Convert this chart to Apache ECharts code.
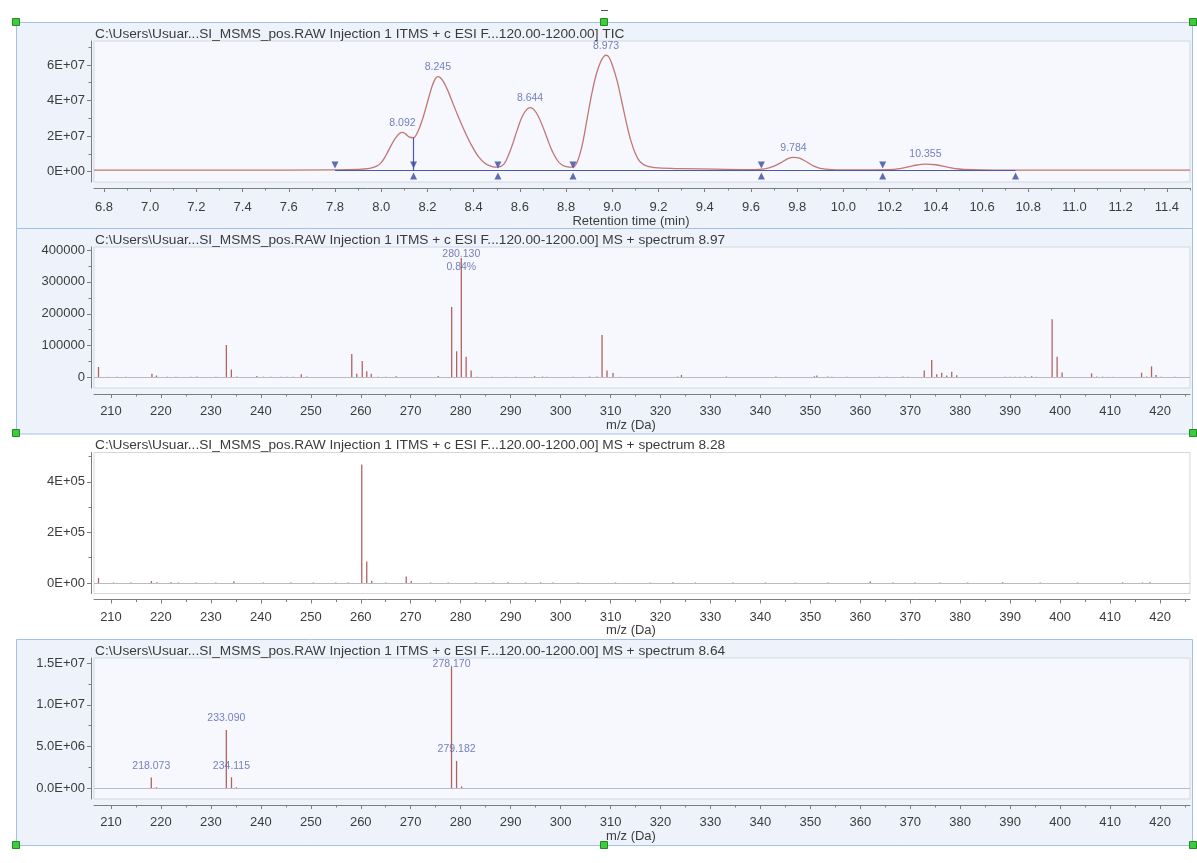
<!DOCTYPE html>
<html><head><meta charset="utf-8">
<script src="https://cdn.jsdelivr.net/npm/echarts@6/dist/echarts.min.js"></script>
<style>html,body{margin:0;padding:0;background:#fff}#c{width:1197px;height:863px}</style>
</head><body><div id="c"></div>
<script>
// ---------------- DATA ----------------
const panelTitles = [
  'C:\\Users\\Usuar...SI_MSMS_pos.RAW Injection 1 ITMS + c ESI F...120.00-1200.00] TIC',
  'C:\\Users\\Usuar...SI_MSMS_pos.RAW Injection 1 ITMS + c ESI F...120.00-1200.00] MS + spectrum 8.97',
  'C:\\Users\\Usuar...SI_MSMS_pos.RAW Injection 1 ITMS + c ESI F...120.00-1200.00] MS + spectrum 8.28',
  'C:\\Users\\Usuar...SI_MSMS_pos.RAW Injection 1 ITMS + c ESI F...120.00-1200.00] MS + spectrum 8.64'
];
const axisNameRt = 'Retention time (min)';
const axisNameMz = 'm/z (Da)';

// TIC chromatogram (retention time, intensity)
const ticRt = [6.757,7.0,7.4,7.8,7.9,7.95,7.98,8.0,8.02,8.04,8.06,8.08,8.092,8.105,8.12,8.14,8.16,8.18,8.2,8.22,8.235,8.245,8.255,8.27,8.29,8.31,8.33,8.36,8.39,8.42,8.45,8.48,8.505,8.53,8.55,8.57,8.59,8.61,8.63,8.644,8.66,8.68,8.7,8.72,8.74,8.77,8.8,8.83,8.85,8.87,8.89,8.91,8.93,8.95,8.965,8.973,8.985,9.0,9.02,9.04,9.06,9.08,9.1,9.12,9.15,9.2,9.3,9.45,9.6,9.66,9.7,9.73,9.76,9.784,9.81,9.84,9.87,9.9,9.95,10.05,10.2,10.25,10.3,10.355,10.4,10.45,10.5,10.55,10.65,11.0,11.5];
const ticIntensity = [0.08e7,0.08e7,0.08e7,0.09e7,0.12e7,0.18e7,0.3e7,0.5e7,0.9e7,1.4e7,1.85e7,2.15e7,2.2e7,2.12e7,1.95e7,1.9e7,2.3e7,3.0e7,3.9e7,4.8e7,5.25e7,5.35e7,5.3e7,5.05e7,4.5e7,3.85e7,3.2e7,2.3e7,1.5e7,0.85e7,0.45e7,0.28e7,0.25e7,0.4e7,0.9e7,1.6e7,2.4e7,3.1e7,3.5e7,3.6e7,3.5e7,3.1e7,2.5e7,1.8e7,1.15e7,0.5e7,0.28e7,0.25e7,0.6e7,1.5e7,2.9e7,4.3e7,5.45e7,6.2e7,6.5e7,6.55e7,6.45e7,6.0e7,5.15e7,4.0e7,2.8e7,1.75e7,1.0e7,0.55e7,0.3e7,0.2e7,0.16e7,0.13e7,0.11e7,0.15e7,0.3e7,0.5e7,0.72e7,0.8e7,0.75e7,0.55e7,0.32e7,0.18e7,0.11e7,0.09e7,0.1e7,0.18e7,0.32e7,0.42e7,0.38e7,0.25e7,0.14e7,0.1e7,0.08e7,0.08e7,0.08e7];
const ticPeakLabels = ['8.092','8.245','8.644','8.973','9.784','10.355'];
const ticPeakRt = [8.092, 8.245, 8.644, 8.973, 9.784, 10.355];
const ticPeakIntensity = [2.2e7, 5.35e7, 3.6e7, 6.55e7, 0.8e7, 0.42e7];
const ticBaseLevel = 0.08e7;
const ticBoundStartRt = [7.8, 8.14, 8.505, 8.83, 9.645, 10.17];   // down markers
const ticBoundEndRt = [8.14, 8.505, 8.83, 9.645, 10.17, 10.745];  // up markers
const ticDropRt = 8.14, ticDropIntensity = 1.9e7;

// MS spectrum at 8.97 min
const ms897Mz  = [207.5,209.3,211.2,213,215.5,218.2,219.1,221.3,223,226,227.2,229.5,231,233.1,234.1,235.2,239.2,240.5,242,244,245.2,246.4,248.1,249.2,250.5,254,258.2,259.2,260.3,261.2,262.1,263.5,265,267.1,270,272.5,275.5,278.2,279.2,280.13,281.1,282.1,283.3,286.3,289,291,294.8,296.4,297.3,302.5,305.8,307.3,308.3,309.3,310.5,312,323.4,324.2,331.5,333.2,343.1,350.8,351.3,353.5,354.3,357.3,363.8,365.3,368.5,369.5,372.8,374.3,375.3,376.3,377.3,378.3,379.3,389,390,391,392,393,394.3,395.2,398.4,399.4,400.4,406.3,407.3,408.5,409.5,410.5,416.3,417.3,418.3,419.2,420.2,423];
const ms897Int = [33000,2000,2500,2000,1500,12000,6000,2500,2000,2000,3000,1500,2000,102000,25000,3000,5000,2500,2000,2500,2000,2500,10000,3000,1500,1500,74000,12000,52000,20000,12000,2500,2000,4000,1500,1500,5000,221000,82000,375000,65000,22000,2500,2500,2000,2500,4000,3000,2500,2500,3000,3500,133000,22000,14000,2000,3000,8000,1500,3000,3000,4000,6000,3000,2500,2000,2000,2000,3000,2500,22000,55000,10000,15000,6000,18000,7000,2000,2500,2500,2500,3000,4000,2500,183000,65000,16000,13000,3000,2500,2000,2000,15000,3000,35000,8000,2500,2000];
const ms897LabelMz = [280.13];
const ms897LabelInt = [375000];
const ms897LabelText = ['280.130\n0.84%'];

// MS spectrum at 8.28 min
const ms828Mz  = [207.5,210.5,214,218.1,219.2,222,223.5,227,231,234.6,240.5,246,250.5,255,257.5,260.2,261.2,262.2,265,269.1,270.1,274,277.5,283,286.5,289.5,293,296,298.5,303.5,311,318,322.5,327,334.5,341,347,353.5,362,366.5,371,376,381.5,388.5,396,403.5,412.5,416.5,418];
const ms828Int = [20000,2000,1500,8000,3000,3000,2000,2000,1500,7000,2000,1500,1500,1500,2000,468000,85000,9000,1500,26000,8000,1500,2000,2000,2000,2500,2000,2500,2000,2000,2000,1500,2500,2000,1500,2000,1500,2000,6000,1500,2000,2000,1500,2500,2000,2000,2500,2000,2500];

// MS spectrum at 8.64 min
const ms864Mz  = [218.07,219.1,233.09,234.12,235.1,278.17,279.18,280.2];
const ms864Int = [1300000,150000,7000000,1350000,150000,14520000,3300000,250000];
const ms864LabelMz = [218.073,233.090,234.115,278.170,279.182];
const ms864LabelInt = [1300000,7000000,1350000,14520000,3300000];
const ms864LabelText = ['218.073','233.090','234.115','278.170','279.182'];

// Axis ticks
const rtTickLabels = ['6.8','7.0','7.2','7.4','7.6','7.8','8.0','8.2','8.4','8.6','8.8','9.0','9.2','9.4','9.6','9.8','10.0','10.2','10.4','10.6','10.8','11.0','11.2','11.4'];
const rtMinorTicks = [6.9,7.1,7.3,7.5,7.7,7.9,8.1,8.3,8.5,8.7,8.9,9.1,9.3,9.5,9.7,9.9,10.1,10.3,10.5,10.7,10.9,11.1,11.3,11.5];
const mzTickLabels = ['210','220','230','240','250','260','270','280','290','300','310','320','330','340','350','360','370','380','390','400','410','420'];
const mzMinorTicks = [215,225,235,245,255,265,275,285,295,305,315,325,335,345,355,365,375,385,395,405,415,425];
const y1Ticks = [0, 2e7, 4e7, 6e7];       const y1Labels = ['0E+00','2E+07','4E+07','6E+07'];   const y1Minor = [1e7,3e7,5e7,7e7];
const y2Ticks = [0,100000,200000,300000,400000]; const y2Labels = ['0','100000','200000','300000','400000']; const y2Minor = [50000,150000,250000,350000];
const y3Ticks = [0, 2e5, 4e5];            const y3Labels = ['0E+00','2E+05','4E+05'];           const y3Minor = [1e5,3e5,5e5];
const y4Ticks = [0, 5e6, 1e7, 1.5e7];     const y4Labels = ['0.0E+00','5.0E+06','1.0E+07','1.5E+07']; const y4Minor = [2.5e6,7.5e6,1.25e7];

// ---------------- CHART ----------------
const FONT = '"Liberation Sans", Arial, sans-serif';
const AXIS_COL = '#7d7d7d', TXT = '#3c3c3c', LBL = '#5560b0';
const TIC_COL = '#c27676', BAR_COL = '#b36262';
const tops = [22, 228, 433.5, 639];
const yRanges = [[-5.915e6, 7.352e7], [-32941, 409412], [-41502, 515810], [-1.2549e6, 1.5597e7]];
const yTicks = [[y1Ticks,y1Labels,y1Minor],[y2Ticks,y2Labels,y2Minor],[y3Ticks,y3Labels,y3Minor],[y4Ticks,y4Labels,y4Minor]];
const rtTicks = rtTickLabels.map(parseFloat);
const mzTicks = mzTickLabels.map(parseFloat);
const xCfg = [
  [6.757, 11.50, rtTicks, rtTickLabels, rtMinorTicks, axisNameRt],
  [206.6, 426.0, mzTicks, mzTickLabels, mzMinorTicks, axisNameMz],
  [206.6, 426.0, mzTicks, mzTickLabels, mzMinorTicks, axisNameMz],
  [206.6, 426.0, mzTicks, mzTickLabels, mzMinorTicks, axisNameMz]
];
const lookup = (vals, labels) => v => { const i = vals.findIndex(m => Math.abs(m - v) < 1e-6 * Math.max(1, Math.abs(m))); return i < 0 ? '' : labels[i]; };

const grids = [], xAxes = [], yAxes = [];
tops.forEach((T, p) => {
  grids.push({left: 94, right: 7, top: T + 19, height: 141, show: true,
    backgroundColor: p === 2 ? '#ffffff' : '#f6f8fd', borderColor: '#d3d8e0', borderWidth: 1});
  const [xmin, xmax, maj, lab, minr, nm] = xCfg[p];
  xAxes.push({type: 'value', gridIndex: p, min: xmin, max: xmax, position: 'bottom', offset: 6,
    axisLine: {show: true, onZero: false, lineStyle: {color: AXIS_COL}},
    axisTick: {show: true, customValues: maj, length: 4, lineStyle: {color: AXIS_COL}},
    axisLabel: {customValues: maj, formatter: lookup(maj, lab), margin: p === 0 ? 13 : 11, fontSize: 13, color: TXT, fontFamily: FONT},
    splitLine: {show: false},
    name: nm, nameLocation: 'middle', nameGap: 23,
    nameTextStyle: {fontSize: 13, color: TXT, fontFamily: FONT, padding: [0, 22, 0, 0]}});
  xAxes.push({type: 'value', gridIndex: p, min: xmin, max: xmax, position: 'bottom', offset: 6,
    axisLine: {show: false, onZero: false}, axisLabel: {show: false}, splitLine: {show: false},
    axisTick: {show: true, customValues: minr, length: 2.5, lineStyle: {color: AXIS_COL}}});
  const [yv, yl, ym] = yTicks[p];
  yAxes.push({type: 'value', gridIndex: p, min: yRanges[p][0], max: yRanges[p][1], position: 'left', offset: 3,
    axisLine: {show: true, onZero: false, lineStyle: {color: AXIS_COL}},
    axisTick: {show: true, customValues: yv, length: 4, lineStyle: {color: AXIS_COL}},
    axisLabel: {customValues: yv, formatter: lookup(yv, yl), margin: 6, fontSize: 13, color: TXT, fontFamily: FONT},
    splitLine: {show: false}});
  yAxes.push({type: 'value', gridIndex: p, min: yRanges[p][0], max: yRanges[p][1], position: 'left', offset: 3,
    axisLine: {show: false, onZero: false}, axisLabel: {show: false}, splitLine: {show: false},
    axisTick: {show: true, customValues: ym, length: 2.5, lineStyle: {color: AXIS_COL}}});
});

const zeroLine = {silent: true, symbol: 'none', label: {show: false}, lineStyle: {color: '#b8bac4', type: 'solid', width: 1}, data: [{yAxis: 0}]};
const barSeries = (p, mz, it) => ({type: 'bar', xAxisIndex: 2*p, yAxisIndex: 2*p, barWidth: 1.3, barGap: '-100%',
  itemStyle: {color: BAR_COL}, data: mz.map((m, i) => [m, it[i]]), markLine: zeroLine, z: 3});
const labelSeries = (p, xs, ys, texts, extra) => ({type: 'scatter', xAxisIndex: 2*p, yAxisIndex: 2*p, symbolSize: 0, z: 5,
  data: xs.map((x, i) => ({value: [x, ys[i]], name: texts[i]})),
  label: Object.assign({show: true, position: 'top', distance: 3, formatter: '{b}', color: LBL, fontSize: 10.5, fontFamily: FONT, lineHeight: 13}, extra || {})});

const series = [
  {type: 'line', xAxisIndex: 0, yAxisIndex: 0, smooth: 0.35, symbol: 'none', z: 3,
    lineStyle: {color: TIC_COL, width: 1.3}, data: ticRt.map((r, i) => [r, ticIntensity[i]]),
    markLine: {silent: true, symbol: 'none', label: {show: false}, lineStyle: {color: '#4a58b0', type: 'solid', width: 1.2},
      data: [[{coord: [ticBoundStartRt[0], ticBaseLevel]}, {coord: [ticBoundEndRt[ticBoundEndRt.length-1], ticBaseLevel]}],
             [{coord: [ticDropRt, ticBaseLevel]}, {coord: [ticDropRt, ticDropIntensity]}]]}},
  {type: 'scatter', xAxisIndex: 0, yAxisIndex: 0, symbol: 'triangle', symbolRotate: 180, symbolSize: [7, 7], symbolOffset: [0, -5], z: 6,
    itemStyle: {color: '#3a479f'}, data: ticBoundStartRt.map(r => [r, ticBaseLevel])},
  {type: 'scatter', xAxisIndex: 0, yAxisIndex: 0, symbol: 'triangle', symbolSize: [7, 7], symbolOffset: [0, 6], z: 6,
    itemStyle: {color: '#3a479f'}, data: ticBoundEndRt.map(r => [r, ticBaseLevel])},
  labelSeries(0, ticPeakRt, ticPeakIntensity, ticPeakLabels),
  barSeries(1, ms897Mz, ms897Int),
  labelSeries(1, ms897LabelMz, ms897LabelInt, ms897LabelText, {position: 'inside', offset: [0, 3]}),
  barSeries(2, ms828Mz, ms828Int),
  barSeries(3, ms864Mz, ms864Int),
  labelSeries(3, ms864LabelMz, ms864LabelInt, ms864LabelText, {distance: 5})
];
// tallest labelled peak in the last panel sits against the plot top: draw label on it
series[series.length-1].data.forEach(d => { if (d.value[1] > 1.4e7) d.label = {position: 'inside', offset: [0, -3]}; });

const graphic = [];
const panelBorders = [[22, 228], [228, 433.5], null, [639, 845]];
panelBorders.forEach((b, p) => {
  if (b) graphic.push({type: 'rect', z: -100, shape: {x: 16.5, y: b[0] + 0.5, width: 1176, height: b[1] - b[0]},
    style: {fill: '#eef3fb', stroke: '#a3c0e6', lineWidth: 1}});
});
tops.forEach((T, p) => graphic.push({type: 'text', z: 10, x: 95, y: T + 12,
  style: {text: panelTitles[p], font: '13.7px ' + FONT, fill: '#3a3a3a', verticalAlign: 'middle'}}));
[[16,22],[604,22],[1193,22],[16,433],[1193,433],[16,845],[604,845],[1193,845]].forEach(([x, y]) =>
  graphic.push({type: 'rect', z: 20, shape: {x: x - 3.5, y: y - 3.5, width: 7, height: 7},
    style: {fill: '#3dcc3d', stroke: '#218a21', lineWidth: 1}}));
graphic.push({type: 'line', z: 20, shape: {x1: 601, y1: 10.5, x2: 608, y2: 10.5}, style: {stroke: '#555', lineWidth: 1}});

const chart = echarts.init(document.getElementById('c'), null, {renderer: 'canvas'});
chart.setOption({animation: false, backgroundColor: '#ffffff', grid: grids, xAxis: xAxes, yAxis: yAxes, series, graphic});
</script></body></html>
